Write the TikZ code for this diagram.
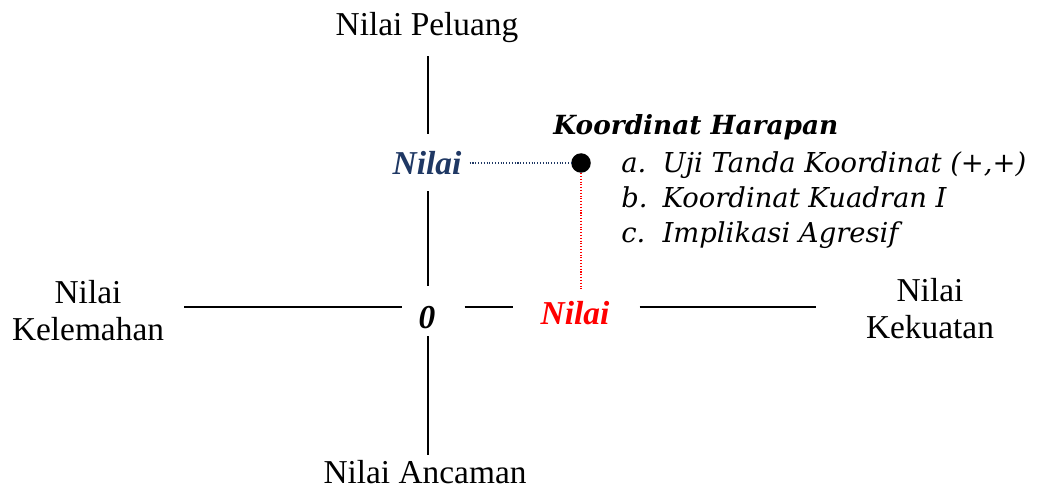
\documentclass[tikz,border=0pt]{standalone}
\usepackage{fontspec}
\setmainfont{Liberation Serif}
\newfontfamily\listfont{DejaVu Serif}
\usetikzlibrary{positioning}
\definecolor{navyblue}{RGB}{31,56,100}
\definecolor{brightred}{RGB}{255,0,0}

\begin{document}
\begin{tikzpicture}[x=0.02cm, y=-0.02cm,
    axislabel/.style={font=\fontsize{19}{21}\selectfont, align=center, inner sep=0pt},
    value/.style={font=\fontsize{19}{21}\selectfont\bfseries\itshape, inner sep=0pt},
    heading/.style={font=\listfont\fontsize{15}{18}\selectfont\bfseries\itshape, inner sep=0pt, anchor=west},
    itemlist/.style={font=\listfont\fontsize{15.6}{18}\selectfont\itshape, inner sep=0pt, anchor=north west},
    dot/.style={circle, fill=black, inner sep=0pt, minimum size=0.39cm},
    axis/.style={line width=0.8pt},
    guide/.style={densely dotted, line width=0.6pt}]
    \useasboundingbox (0,0) rectangle (1040,489);

    % axis labels
    \node[axislabel] (peluang) at (427,28) {Nilai Peluang};
    \node[axislabel] (ancaman) at (425,472) {Nilai Ancaman};
    \node[axislabel] (kelemahan) at (88,311) {Nilai\\Kelemahan};
    \node[axislabel] (kekuatan) at (930,309) {Nilai\\Kekuatan};
    \coordinate (origin) at (428,307);

    % values on the axes
    \node[value] (nol) at (427,318) {0};
    \node[value, navyblue] (nilaiy) at (427,163) {Nilai};
    \node[value, brightred] (nilaix) at (575,313) {Nilai};

    % expected coordinate
    \node[dot] (titik) at (581,163) {};
    \node[heading] (harapan) at (553,127) {Koordinat Harapan};
    \node[itemlist] (kriteria) at (621,147) {\renewcommand{\arraystretch}{1.12}%
        \begin{tabular}{@{}l@{\hspace{0.3cm}}l@{}}
        a. & Uji Tanda Koordinat (+,+)\\
        b. & Koordinat Kuadran I\\
        c. & Implikasi Agresif
        \end{tabular}};

    % vertical axis
    \draw[axis] ([yshift=-0.25cm]peluang.south -| origin) -- ([yshift=0.34cm]nilaiy.north -| origin);
    \draw[axis] ([yshift=-0.32cm]nilaiy.south -| origin) -- ([yshift=0.4cm]nol.north -| origin);
    \draw[axis] ([yshift=-0.13cm]nol.south -| origin) -- ([yshift=0.1cm]ancaman.north -| origin);

    % horizontal axis
    \draw[axis] ([xshift=0.4cm]kelemahan.east |- origin) -- ([xshift=-0.32cm]nol.west |- origin);
    \draw[axis] ([xshift=0.58cm]nol.east |- origin) -- ([xshift=-0.54cm]nilaix.west |- origin);
    \draw[axis] ([xshift=0.6cm]nilaix.east |- origin) -- ([xshift=-1cm]kekuatan.west |- origin);

    % guides to the axes
    \draw[guide, navyblue] ([xshift=0.16cm]nilaiy.east) -- (titik.west);
    \draw[guide, brightred] (titik.south) -- ([yshift=0.2cm]titik.south |- nilaix.north);
\end{tikzpicture}
\end{document}
